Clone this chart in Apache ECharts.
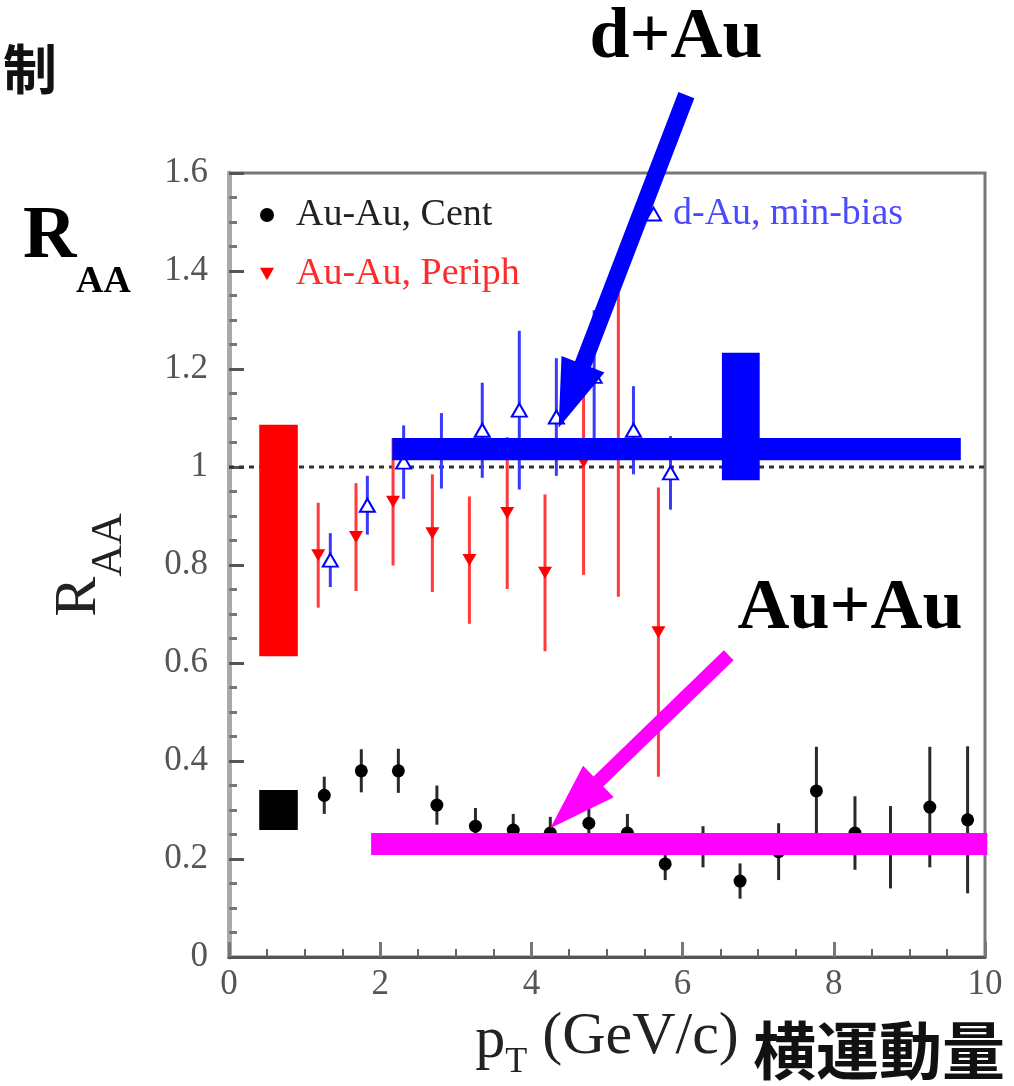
<!DOCTYPE html>
<html><head><meta charset="utf-8">
<script src="https://cdn.jsdelivr.net/npm/echarts@6/dist/echarts.min.js"></script>
<style>html,body{margin:0;padding:0;background:#fff}#c{width:1014px;height:1086px}</style>
</head><body><div id="c"></div>
<script>
// ---- data ----
var centX   = [1.26,1.75,2.24,2.75,3.26,3.76,4.25,4.76,5.27,5.77,6.27,6.76,7.27,7.77,8.28,8.75,9.27,9.77];
var centY   = [0.33,0.38,0.38,0.31,0.267,0.259,0.253,0.273,0.253,0.19,0.225,0.155,0.215,0.339,0.253,0.224,0.306,0.28];
var centErr = [0.038,0.044,0.045,0.04,0.037,0.033,0.033,0.031,0.039,0.033,0.042,0.036,0.058,0.09,0.075,0.084,0.123,0.15];

var periX   = [1.18,1.68,2.17,2.69,3.18,3.68,4.18,4.69,5.15,5.68];
var periY   = [0.82,0.857,0.929,0.865,0.81,0.906,0.784,1.01,1.045,0.663];
var periErr = [0.107,0.11,0.13,0.12,0.13,0.155,0.16,0.23,0.31,0.295];

var dauX    = [1.34,1.83,2.31,2.81,3.35,3.84,4.33,4.83,5.35,5.84];
var dauY    = [0.81,0.922,1.01,1.033,1.075,1.116,1.102,1.185,1.075,0.988];
var dauErr  = [0.055,0.06,0.075,0.077,0.097,0.162,0.12,0.135,0.09,0.075];

// systematic boxes: [xFrom, xTo, yFrom, yTo]
var centSys = [0.4, 0.91, 0.259, 0.341];
var periSys = [0.4, 0.91, 0.614, 1.086];
var dauSys  = [6.52, 7.02, 0.973, 1.233];

// annotation bands [xFrom, xTo, yFrom, yTo] and arrows [xTail, yTail, xTip, yTip]
var dauBand  = [2.16, 9.68, 1.014, 1.059];
var auBand   = [1.88, 10.03, 0.208, 0.253];
var dauArrow = [6.05, 1.759, 4.36, 1.08];
var auArrow  = [6.61, 0.616, 4.25, 0.263];

var unityLine = [[0, 1], [10, 1]];
var xTicks = [0, 2, 4, 6, 8, 10];
var yTicks = [0, 0.2, 0.4, 0.6, 0.8, 1, 1.2, 1.4, 1.6];

var seriesNames = ['Au-Au, Cent', 'Au-Au, Periph', 'd-Au, min-bias'];

// ---- helpers ----
function zip3(a, b, c) { return a.map(function (v, i) { return [v, b[i], c[i]]; }); }
function pts(a, b) { return a.map(function (v, i) { return [v, b[i]]; }); }

function errRender(color, width) {
  return function (params, api) {
    var x = api.value(0), y = api.value(1), e = api.value(2);
    var p1 = api.coord([x, y - e]), p2 = api.coord([x, y + e]);
    return { type: 'line', shape: { x1: p1[0], y1: p1[1], x2: p2[0], y2: p2[1] },
      style: { stroke: color, lineWidth: width } };
  };
}
function rectRender(color) {
  return function (params, api) {
    var a = api.coord([api.value(0), api.value(3)]);
    var b = api.coord([api.value(1), api.value(2)]);
    return { type: 'rect', shape: { x: a[0], y: a[1], width: b[0] - a[0], height: b[1] - a[1] },
      style: { fill: color } };
  };
}
function arrowRender(shaftW, headL, headW, color) {
  return function (params, api) {
    var a = api.coord([api.value(0), api.value(1)]);
    var b = api.coord([api.value(2), api.value(3)]);
    var dx = b[0] - a[0], dy = b[1] - a[1], L = Math.sqrt(dx * dx + dy * dy);
    var ux = dx / L, uy = dy / L, px = -uy, py = ux;
    var bx = b[0] - ux * headL, by = b[1] - uy * headL, s = shaftW / 2;
    var p = [
      [a[0] + px * s, a[1] + py * s], [bx + px * s, by + py * s], [bx + px * headW, by + py * headW],
      [b[0], b[1]], [bx - px * headW, by - py * headW], [bx - px * s, by - py * s], [a[0] - px * s, a[1] - py * s]
    ];
    return { type: 'polygon', shape: { points: p }, style: { fill: color } };
  };
}

var serif = 'Liberation Serif';
var redTri = 'path://M0,0L10,0L5,9Z';

var chart = echarts.init(document.getElementById('c'), null, { renderer: 'canvas' });
chart.setOption({
  animation: false,
  backgroundColor: '#fff',
  grid: { left: 229, top: 173, right: 29, bottom: 129, show: true, borderColor: '#777', borderWidth: 3, containLabel: false },
  xAxis: {
    type: 'value', min: xTicks[0], max: xTicks[xTicks.length - 1], interval: 2,
    name: '{p|p}{t|T}{g| (GeV/c)}', nameLocation: 'middle', nameGap: 54,
    nameTextStyle: { rich: {
      p: { fontFamily: serif, fontSize: 60, color: '#222', lineHeight: 62, verticalAlign: 'bottom', padding: [0, 0, 10, 0] },
      t: { fontFamily: serif, fontSize: 36, color: '#222', lineHeight: 38, verticalAlign: 'bottom' },
      g: { fontFamily: serif, fontSize: 60, color: '#222', lineHeight: 62, verticalAlign: 'bottom', padding: [0, 0, 14, 0] }
    } },
    axisLine: { show: true, onZero: false, lineStyle: { color: '#555', width: 3 } },
    axisTick: { show: true, inside: true, length: 15, lineStyle: { color: '#777', width: 3 } },
    minorTick: { show: true, splitNumber: 4, length: 8, lineStyle: { color: '#666', width: 2 } },
    axisLabel: { fontFamily: serif, fontSize: 35, color: '#555', margin: 10,
      formatter: function (v) { return String(v); } },
    splitLine: { show: false }
  },
  yAxis: {
    type: 'value', min: yTicks[0], max: yTicks[yTicks.length - 1], interval: 0.2,
    name: '{r|R}{s|AA}', nameLocation: 'middle', nameRotate: 90, nameGap: 98,
    nameTextStyle: { rich: {
      r: { fontFamily: serif, fontSize: 60, color: '#222', lineHeight: 60, verticalAlign: 'bottom', padding: [0, 0, 22, 0] },
      s: { fontFamily: serif, fontSize: 44, color: '#222', lineHeight: 44, verticalAlign: 'bottom' }
    } },
    axisLine: { show: true, onZero: false, lineStyle: { color: '#aaa', width: 5 } },
    axisTick: { show: true, inside: true, length: 15, lineStyle: { color: '#555', width: 3 } },
    minorTick: { show: true, splitNumber: 4, length: 8, lineStyle: { color: '#777', width: 3 } },
    axisLabel: { fontFamily: serif, fontSize: 35, color: '#555', margin: 21,
      formatter: function (v) { return String(Math.round(v * 10) / 10); } },
    splitLine: { show: false }
  },
  legend: [
    { orient: 'vertical', left: 260, top: 196, padding: 0, itemGap: 21, itemWidth: 14, itemHeight: 14, z: 3,
      textStyle: { fontFamily: serif, fontSize: 38, lineHeight: 34, padding: [0, 0, 0, 17] },
      data: [
        { name: seriesNames[0], icon: 'circle', textStyle: { color: '#222' } },
        { name: seriesNames[1], icon: redTri, textStyle: { color: '#ff2a2a' } }
      ] },
    { orient: 'vertical', left: 645, top: 195, padding: 0, itemWidth: 15, itemHeight: 13, z: 3,
      textStyle: { fontFamily: serif, fontSize: 38, lineHeight: 34, padding: [0, 0, 0, 7] },
      data: [ { name: seriesNames[2], icon: 'emptyTriangle', textStyle: { color: '#4a4aff' } } ] }
  ],
  graphic: [
    { type: 'text', left: 3, top: 42, style: { text: '制', font: 'bold 54px "Noto Sans CJK JP"', fill: '#111' } },
    { type: 'text', x: 23, y: 238, style: { text: 'R', font: 'bold 74px "Liberation Serif"', fill: '#000', textVerticalAlign: 'middle' } },
    { type: 'text', x: 76, y: 282, style: { text: 'AA', font: 'bold 38px "Liberation Serif"', fill: '#000', textVerticalAlign: 'middle' } },
    { type: 'text', x: 676, y: 38, z: 20, style: { text: 'd+Au', font: 'bold 72px "Liberation Serif"', fill: '#000', textAlign: 'center', textVerticalAlign: 'middle' } },
    { type: 'text', x: 850, y: 609, z: 20, style: { text: 'Au+Au', font: 'bold 72px "Liberation Serif"', fill: '#000', textAlign: 'center', textVerticalAlign: 'middle' } },
    { type: 'text', x: 879, y: 1050, style: { text: '横運動量', font: 'bold 63px "Noto Sans CJK JP"', fill: '#111', textAlign: 'center', textVerticalAlign: 'middle' } }
  ],
  series: [
    { type: 'line', data: unityLine, symbol: 'none', silent: true, z: 1,
      lineStyle: { color: '#333', width: 3, type: [5, 5] } },
    { type: 'custom', renderItem: rectRender('#ff0000'), data: [periSys], z: 2, silent: true },
    { type: 'custom', renderItem: rectRender('#000000'), data: [centSys], z: 2, silent: true },
    { type: 'custom', renderItem: rectRender('#0000ff'), data: [dauSys], z: 2, silent: true },
    { type: 'custom', renderItem: errRender('#ff3b3b', 3), data: zip3(periX, periY, periErr), z: 3, silent: true },
    { type: 'custom', renderItem: errRender('#3a3aff', 3), data: zip3(dauX, dauY, dauErr), z: 3, silent: true },
    { type: 'custom', renderItem: errRender('#2a2a2a', 3), data: zip3(centX, centY, centErr), z: 3, silent: true },
    { name: seriesNames[1], type: 'scatter', data: pts(periX, periY), symbol: redTri, symbolSize: [14, 12], z: 4,
      itemStyle: { color: '#ff0000', opacity: 1 } },
    { name: seriesNames[2], type: 'scatter', data: pts(dauX, dauY), symbol: 'emptyTriangle', symbolSize: [15, 13], z: 4,
      itemStyle: { color: '#0000ff', borderColor: '#0000ff', borderWidth: 2.5, opacity: 1 } },
    { name: seriesNames[0], type: 'scatter', data: pts(centX, centY), symbol: 'circle', symbolSize: 13, z: 4,
      itemStyle: { color: '#000', opacity: 1 } },
    { type: 'custom', renderItem: rectRender('#0000ff'), data: [dauBand], z: 10, silent: true, clip: false },
    { type: 'custom', renderItem: rectRender('#ff00ff'), data: [auBand], z: 10, silent: true, clip: false },
    { type: 'custom', renderItem: arrowRender(17, 68, 23, '#0000ff'), data: [dauArrow], z: 11, silent: true, clip: false },
    { type: 'custom', renderItem: arrowRender(14, 67, 22, '#ff00ff'), data: [auArrow], z: 11, silent: true, clip: false }
  ]
});
</script></body></html>
